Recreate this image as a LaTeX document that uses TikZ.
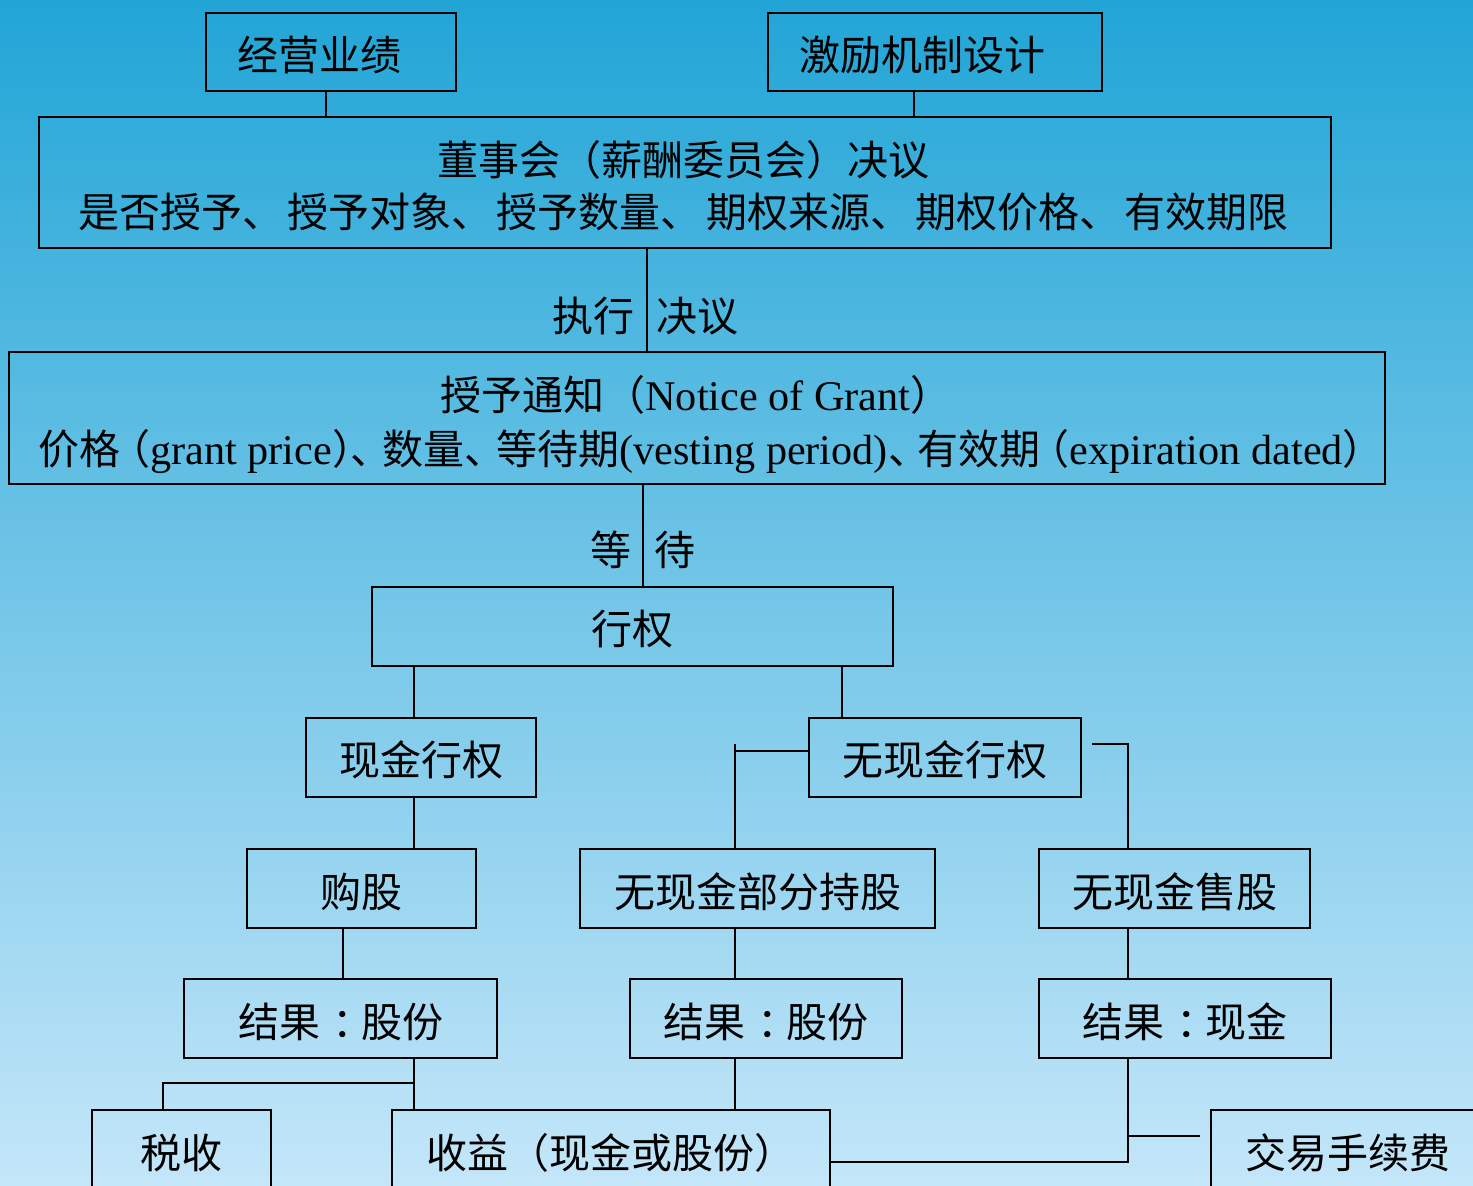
\documentclass[tikz,border=0pt]{standalone}
\usepackage{fontspec}
\setmainfont{Noto Sans CJK SC}
\newfontfamily\lat[Scale=1.03]{Liberation Serif}
\definecolor{bgtop}{RGB}{33,165,214}
\definecolor{bgbot}{RGB}{196,230,249}
\newcommand{\dun}{、\kern2.2pt}
\newcommand{\colonc}{\kern.3em：\kern-.3em}
\tikzset{
  txt/.style={font=\fontsize{20.5pt}{26pt}\selectfont, inner sep=0pt},
  box/.style={draw=black, line width=1pt, inner sep=0pt, minimum height=39.5pt,
    text height=21pt, text depth=2.5pt, font=\fontsize{20.5pt}{26pt}\selectfont},
  conn/.style={draw=black, line width=1pt},
}
\begin{document}
\begin{tikzpicture}[x=0.5pt,y=-0.5pt]
\clip (0,0) rectangle (1473,1186);
\shade[top color=bgtop, bottom color=bgbot] (0,0) rectangle (1473,1186);

% boxes
\node[box, minimum width=125pt, minimum height=39pt] (jy) at (331,52) {经营业绩\kern12pt};
\node[box, minimum width=167pt, minimum height=39pt] (jl) at (935,52) {激励机制设计\kern13pt};
\node[box, minimum width=646pt, minimum height=65.5pt] (dsh) at (685,182.5) {};
\node[txt, anchor=center] (dsh1) at (683.5,160) {董事会（薪酬委员会）决议};
\node[txt, anchor=center] (dsh2) at (683.5,212) {是否授予\dun 授予对象\dun 授予数量\dun 期权来源\dun 期权价格\dun 有效期限};
\node[box, minimum width=688pt, minimum height=66pt] (tz) at (697,418) {};
\node[txt, anchor=base west] (tz1) at (440,411) {授予通知（{\lat Notice of Grant}）};
\node[txt, anchor=base west] (tz2) at (38,465) {价格\kern-.27em（{\lat grant price}）\kern-.55em、\kern-.22em数量、\kern-.22em等待期{\lat (vesting period)}、\kern-.27em有效期\kern-.3em（{\lat expiration dated}）};
\node[box, minimum width=260.5pt] (xq) at (632.5,626.5) {行权};
\node[box, minimum width=115pt] (xjxq) at (421,757.5) {现金行权};
\node[box, minimum width=136pt] (wxjxq) at (945,757.5) {无现金行权};
\node[box, minimum width=114.5pt] (gg) at (361.5,888.5) {购股};
\node[box, minimum width=177.5pt] (wbf) at (757.5,888.5) {无现金部分持股};
\node[box, minimum width=135.5pt] (wsg) at (1174.5,888.5) {无现金售股};
\node[box, minimum width=156.5pt] (r1) at (340.5,1018.5) {结果\colonc 股份};
\node[box, minimum width=136pt] (r2) at (766,1018.5) {结果\colonc 股份};
\node[box, minimum width=146pt] (r3) at (1185,1018.5) {结果\colonc 现金};
\node[box, minimum width=89.5pt] (ss) at (181.5,1149.5) {税收};
\node[box, minimum width=219pt] (sy) at (611,1149.5) {收益（现金或股份）};
\node[box, minimum width=137pt] (jf) at (1348,1149.5) {交易手续费};

% labels
\node[txt] (lz1) at (593,316) {执行};
\node[txt] (lz2) at (697,316) {决议};
\node[txt] (ld1) at (611,550) {等};
\node[txt] (ld2) at (675,550) {待};

% connectors
\draw[conn] (326,0 |- jy.south) -- (326,0 |- dsh.north);
\draw[conn] (914,0 |- jl.south) -- (914,0 |- dsh.north);
\draw[conn] (647,0 |- dsh.south) -- (647,0 |- tz.north);
\draw[conn] (643,0 |- tz.south) -- (643,0 |- xq.north);
\draw[conn] (414,0 |- xq.south) -- (414,0 |- xjxq.north);
\draw[conn] (842,0 |- xq.south) -- (842,0 |- wxjxq.north);
\draw[conn] (414,0 |- xjxq.south) -- (414,0 |- gg.north);
\draw[conn] (343,0 |- gg.south) -- (343,0 |- r1.north);
\coordinate (t1) at (735,744);
\draw[conn] (t1) -- (t1 |- wbf.north);
\draw[conn] (wxjxq.west |- 0,751) -- (t1 |- 0,751);
\coordinate (t2) at (1092,744);
\draw[conn] (t2) -| (1128,0 |- wsg.north);
\draw[conn] (735,0 |- wbf.south) -- (735,0 |- r2.north);
\draw[conn] (735,0 |- r2.south) -- (735,0 |- sy.north);
\draw[conn] (1128,0 |- wsg.south) -- (1128,0 |- r3.north);
\draw[conn] (1128,0 |- r3.south) |- (sy.east |- 0,1162);
\coordinate (t3) at (1200,1136);
\draw[conn] (1128,0 |- t3) -- (t3);
\draw[conn] (414,0 |- r1.south) -- (414,0 |- sy.north);
\draw[conn] (414,1083) -| (163,0 |- ss.north);
\end{tikzpicture}
\end{document}
